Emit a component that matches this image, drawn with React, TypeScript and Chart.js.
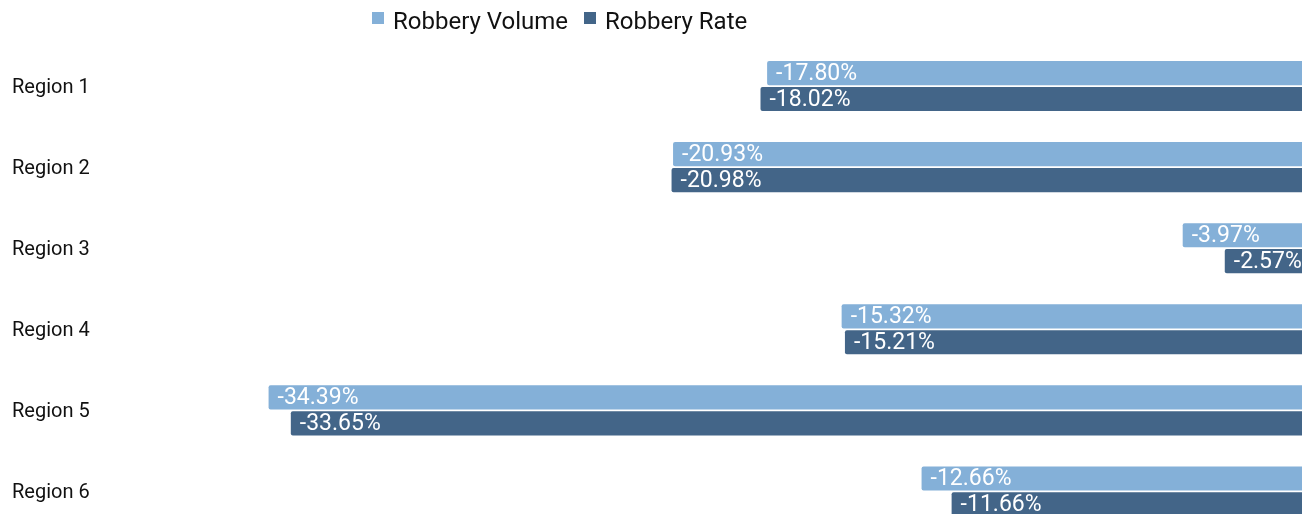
import React, { useEffect, useRef } from "react";
import { Chart, registerables } from "chart.js";

Chart.register(...registerables);

const categories = ["Region 1", "Region 2", "Region 3", "Region 4", "Region 5", "Region 6"];
const robberyVolume = [-17.8, -20.93, -3.97, -15.32, -34.39, -12.66];
const robberyRate = [-18.02, -20.98, -2.57, -15.21, -33.65, -11.66];
const seriesNames = ["Robbery Volume", "Robbery Rate"];
const seriesColors = ["#84b0d8", "#436588"];
const xMin = -40;
const xMax = 0;

const barLabelPlugin = {
  id: "barLabels",
  afterDatasetsDraw(chart: any) {
    const { ctx, chartArea } = chart;
    ctx.save();
    ctx.beginPath();
    ctx.rect(chartArea.left, chartArea.top, chartArea.right - chartArea.left, chartArea.bottom - chartArea.top);
    ctx.clip();
    ctx.fillStyle = "#ffffff";
    ctx.font = "23px Roboto";
    ctx.textBaseline = "middle";
    ctx.textAlign = "left";
    chart.data.datasets.forEach((ds: any, i: number) => {
      const meta = chart.getDatasetMeta(i);
      meta.data.forEach((bar: any, j: number) => {
        const v = ds.data[j] as number;
        const left = Math.min(bar.x, bar.base);
        ctx.fillText(v.toFixed(2) + "%", left + 9, bar.y + 1);
      });
    });
    ctx.restore();
  },
};

export default function App() {
  const ref = useRef<HTMLCanvasElement>(null);
  useEffect(() => {
    document.body.style.margin = "0";
    document.body.style.overflow = "hidden";
    const chart = new Chart(ref.current as HTMLCanvasElement, {
      type: "bar",
      data: {
        labels: categories,
        datasets: [
          {
            label: seriesNames[0],
            data: robberyVolume,
            backgroundColor: seriesColors[0],
            borderRadius: 2,
            borderSkipped: "start",
            categoryPercentage: 0.64,
            barPercentage: 0.93,
          },
          {
            label: seriesNames[1],
            data: robberyRate,
            backgroundColor: seriesColors[1],
            borderRadius: 2,
            borderSkipped: "start",
            categoryPercentage: 0.64,
            barPercentage: 0.93,
          },
        ],
      },
      options: {
        indexAxis: "y",
        responsive: false,
        animation: false,
        devicePixelRatio: 1,
        layout: { padding: { top: 45.5, left: 12, right: 13, bottom: 0 } },
        scales: {
          x: { display: false, min: xMin, max: xMax },
          y: {
            afterFit: (s: any) => {
              s.width = 88;
              s.paddingTop = 0;
              s.paddingBottom = 0;
            },
            grid: { display: false },
            border: { display: false },
            ticks: {
              crossAlign: "far",
              labelOffset: 2,
              color: "#111111",
              font: { family: "Roboto", size: 20 },
            },
          },
        },
        plugins: {
          legend: { display: false },
          tooltip: { enabled: false },
        },
      },
      plugins: [barLabelPlugin],
    } as any);
    return () => chart.destroy();
  }, []);

  const legendItems = [
    { box: 372, text: 393 },
    { box: 584, text: 605 },
  ];

  return (
    <div style={{ position: "relative", width: 1315, height: 532 }}>
      <canvas ref={ref} width={1315} height={532} style={{ position: "absolute", left: 0, top: 0 }} />
      {seriesNames.map((name, i) => (
        <React.Fragment key={name}>
          <span
            style={{
              position: "absolute",
              left: legendItems[i].box,
              top: 12,
              width: 12,
              height: 12,
              background: seriesColors[i],
            }}
          />
          <span
            style={{
              position: "absolute",
              left: legendItems[i].text,
              top: 7,
              fontFamily: "Roboto",
              fontSize: 24,
              lineHeight: "28px",
              color: "#111111",
              whiteSpace: "nowrap",
            }}
          >
            {name}
          </span>
        </React.Fragment>
      ))}
    </div>
  );
}
